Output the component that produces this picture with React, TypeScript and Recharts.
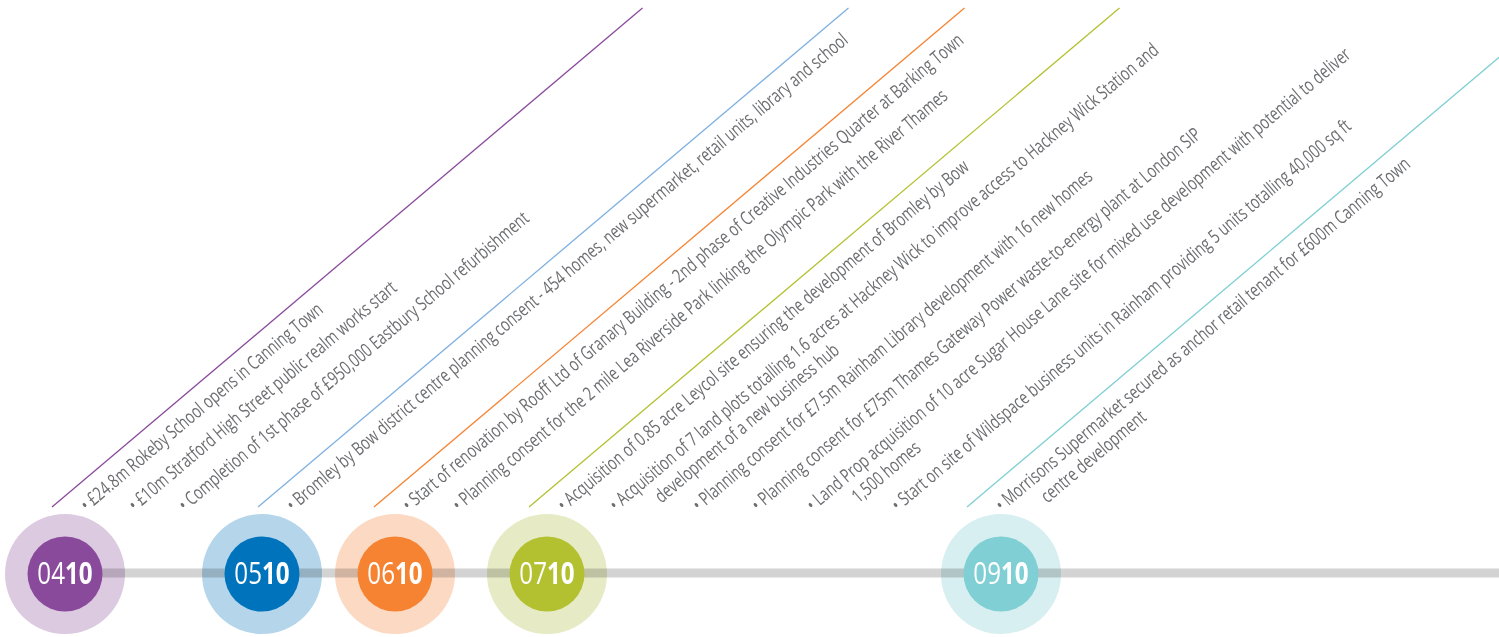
import { ComposedChart, Line, Scatter, XAxis, YAxis } from 'recharts';

// milestones along the timeline (month / year of 2010)
const months = ['04', '05', '06', '07', '09'];
const year = '10';
const monthPos = [65, 262, 395, 547, 1001];
const monthColors = ['#8a4a9c', '#0073bd', '#f58332', '#b3c02f', '#7fcfd4'];
const haloColors = ['#dccae1', '#b4d5ea', '#fcd9c2', '#e6ebc5', '#d7eff0'];
const leaderColors = ['#8a4a9c', '#7eb0e0', '#f58332', '#b3c02f', '#7fcfd4'];

// events, each tied to a milestone
const eventMonth = [0, 0, 0, 1, 2, 2, 3, 3, 3, 3, 3, 3, 4];
const eventPos = [87, 135, 185, 293, 409, 459, 564, 616, 699, 758, 813, 898, 1002];
const eventText: string[][] = [
  ['£24.8m Rokeby School opens in Canning Town'],
  ['£10m Stratford High Street public realm works start'],
  ['Completion of 1st phase of £950,000 Eastbury School refurbishment'],
  ['Bromley by Bow district centre planning consent - 454 homes, new supermarket, retail units, library and school'],
  ['Start of renovation by Rooff Ltd of Granary Building - 2nd phase of Creative Industries Quarter at Barking Town'],
  ['Planning consent for the 2 mile Lea Riverside Park linking the Olympic Park with the River Thames'],
  ['Acquisition of 0.85 acre Leycol site ensuring the development of Bromley by Bow'],
  ['Acquisition of 7 land plots totalling 1.6 acres at Hackney Wick to improve access to Hackney Wick Station and', 'development  of a new business hub'],
  ['Planning consent for £7.5m Rainham Library development with 16 new homes'],
  ['Planning consent for £75m Thames Gateway Power waste-to-energy plant at London SIP'],
  ['Land Prop acquisition of 10 acre Sugar House Lane site for mixed use development with potential to deliver', '1,500 homes'],
  ['Start on site of Wildspace business units in Rainham providing 5 units totalling 40,000 sq ft'],
  ['Morrisons Supermarket secured as anchor retail tenant for £600m Canning Town', 'centre development'],
];

const W = 1499;
const H = 637;
const LINE_Y = 573;
const TEXT_Y = 512;
const LEADER_BOTTOM = 507;
const LEADER_TOP = 8;
const ANGLE = 40.2;
const SQUEEZE = 0.735;
const FONT = "'Open Sans', 'Noto Sans', sans-serif";

const milestones = months.map((m, i) => ({ x: monthPos[i], y: LINE_Y + 1, month: m, idx: i }));
const events = eventText.map((lines, i) => ({ x: eventPos[i], y: TEXT_Y, lines, idx: i }));

const rise = LEADER_BOTTOM - LEADER_TOP;
const run = rise / Math.tan((ANGLE * Math.PI) / 180);
const leaders = months.map((_, i) => {
  const first = eventPos[eventMonth.indexOf(i)] - 35;
  return [
    { x: first, y: LEADER_BOTTOM },
    { x: first + run, y: LEADER_TOP },
  ];
});

const timeline = [
  { x: monthPos[0], y: LINE_Y },
  { x: W, y: LINE_Y },
];

const EventLabel = (props: any) => {
  const { cx, cy, payload } = props;
  return (
    <g transform={`translate(${cx} ${cy}) rotate(${-ANGLE}) scale(${SQUEEZE} 1)`}>
      <text x={0} y={0} fill="#6d6e71" fontSize={19} fontFamily={FONT}>
        <tspan>{'• ' + payload.lines[0]}</tspan>
        {payload.lines[1] ? (
          <tspan x={40 / SQUEEZE} dy={23}>
            {payload.lines[1]}
          </tspan>
        ) : null}
      </text>
    </g>
  );
};

const Halo = (props: any) => {
  const { cx, cy, payload } = props;
  return <circle cx={cx} cy={cy} r={60} fill={haloColors[payload.idx]} />;
};

const Badge = (props: any) => {
  const { cx, cy, payload } = props;
  return (
    <g>
      <circle cx={cx} cy={cy} r={37.5} fill={monthColors[payload.idx]} />
      <g transform={`translate(${cx} ${cy + 10}) scale(0.78 1)`}>
        <text x={0} y={0} textAnchor="middle" fill="#ffffff" fontSize={31} fontFamily={FONT}>
          <tspan>{payload.month}</tspan>
          <tspan fontWeight="bold">{year}</tspan>
        </text>
      </g>
    </g>
  );
};

export default function App() {
  return (
    <div style={{ position: 'absolute', left: 0, top: 0, width: W, height: H, background: '#ffffff' }}>
      <style>{'.timeline-bar { mix-blend-mode: multiply; }'}</style>
      <ComposedChart width={W} height={H} margin={{ top: 0, right: 0, bottom: 0, left: 0 }}>
        <XAxis type="number" dataKey="x" domain={[0, W]} hide allowDataOverflow />
        <YAxis type="number" dataKey="y" domain={[0, H]} reversed hide allowDataOverflow />
        {leaders.map((pts, i) => (
          <Line
            key={'leader' + i}
            data={pts}
            dataKey="y"
            stroke={leaderColors[i]}
            strokeWidth={1.3}
            dot={false}
            activeDot={false}
            isAnimationActive={false}
            zIndex={100}
          />
        ))}
        <Scatter data={events} shape={EventLabel} isAnimationActive={false} zIndex={200} />
        <Scatter data={milestones} shape={Halo} isAnimationActive={false} zIndex={300} />
        <Line
          data={timeline}
          dataKey="y"
          className="timeline-bar"
          stroke="#d3d3d3"
          strokeWidth={9}
          dot={false}
          activeDot={false}
          isAnimationActive={false}
          zIndex={400}
        />
        <Scatter data={milestones} shape={Badge} isAnimationActive={false} zIndex={500} />
      </ComposedChart>
    </div>
  );
}
